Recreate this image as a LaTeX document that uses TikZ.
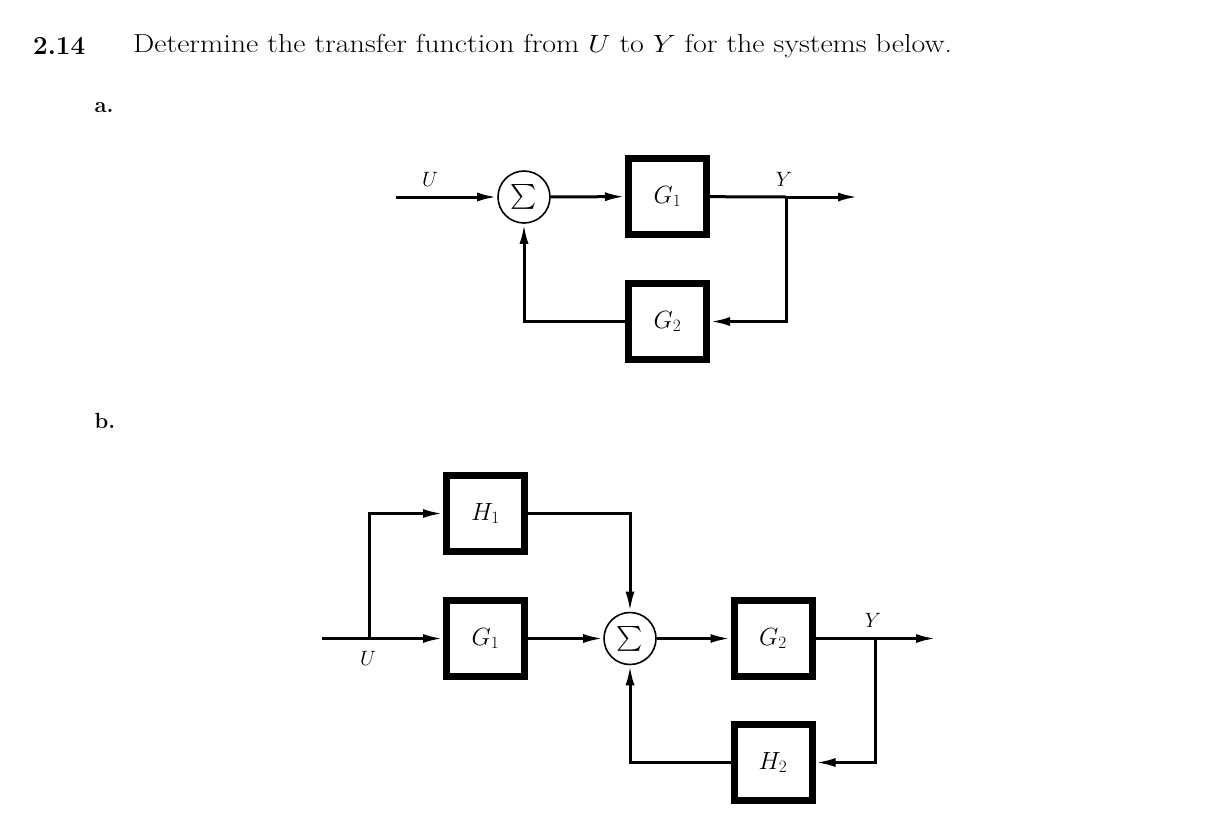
\documentclass[tikz,border=0pt]{standalone}
\usepackage{exscale}
\usetikzlibrary{arrows.meta}
\begin{document}
\begin{tikzpicture}[x=1pt,y=-1pt,
 blk/.style={draw,line width=7pt,minimum width=78pt,minimum height=76pt,inner sep=0pt,font=\fontsize{23}{27}\selectfont},
 sumc/.style={draw,circle,line width=1.6pt,minimum size=52pt,inner sep=0pt,font=\fontsize{27}{30}\selectfont},
 conn/.style={line width=3pt,-{Latex[length=20pt,width=9pt]}},
 wire/.style={line width=3pt},
 lbl/.style={font=\fontsize{20}{24}\selectfont},
 head/.style={font=\fontsize{26}{30}\selectfont}]
\useasboundingbox (0,0) rectangle (1224,836);
% heading
\node[head,font=\fontsize{26}{30}\selectfont\bfseries,anchor=west,inner sep=0pt] (num) at (33,46) {2.14};
\node[head,anchor=west,inner sep=0pt] (title) at (133,46) {\scalebox{1.155}[1]{Determine the transfer function from $U$ to $Y$ for the systems below.}};
\node[head,font=\fontsize{22}{26}\selectfont\bfseries] (pa) at (104,108) {a.};
\node[head,font=\fontsize{22}{26}\selectfont\bfseries] (pb) at (105,421) {b.};
% part a
\node[sumc] (sa) at (524,197) {$\sum$};
\node[blk] (g1a) at (667.5,196.5) {$G_1$};
\node[blk] (g2a) at (667.5,321.5) {$G_2$};
\coordinate (ina) at (396,197);
\coordinate (bra) at (786,197);
\coordinate (outa) at (858,197);
\draw[conn] (ina) -- (sa);
\draw[conn] (sa) -- (g1a);
\draw[wire] (g1a) -- (bra);
\draw[conn] (bra) -- (outa);
\draw[conn] (bra) |- (g2a);
\draw[conn] (g2a) -| (sa);
\node[lbl] (ua) at (430,179) {$U$};
\node[lbl] (ya) at (784,179) {$Y$};
% part b
\node[blk] (h1) at (485.5,513.5) {$H_1$};
\node[blk] (g1b) at (485.5,638.5) {$G_1$};
\node[sumc] (sb) at (630,638.5) {$\sum$};
\node[blk] (g2b) at (773,638.5) {$G_2$};
\node[blk] (h2) at (773,762.5) {$H_2$};
\coordinate (inb) at (322,638.5);
\coordinate (brb1) at (369,638.5);
\coordinate (brb2) at (875,638.5);
\coordinate (outb) at (936,638.5);
\draw[wire] (inb) -- (brb1);
\draw[conn] (brb1) -- (g1b);
\draw[conn] (brb1) |- (h1);
\draw[conn] (h1) -| (sb);
\draw[conn] (g1b) -- (sb);
\draw[conn] (sb) -- (g2b);
\draw[wire] (g2b) -- (brb2);
\draw[conn] (brb2) -- (outb);
\draw[conn] (brb2) |- (h2);
\draw[conn] (h2) -| (sb);
\node[lbl] (ub) at (368,658) {$U$};
\node[lbl] (yb) at (873,620) {$Y$};
\end{tikzpicture}
\end{document}
